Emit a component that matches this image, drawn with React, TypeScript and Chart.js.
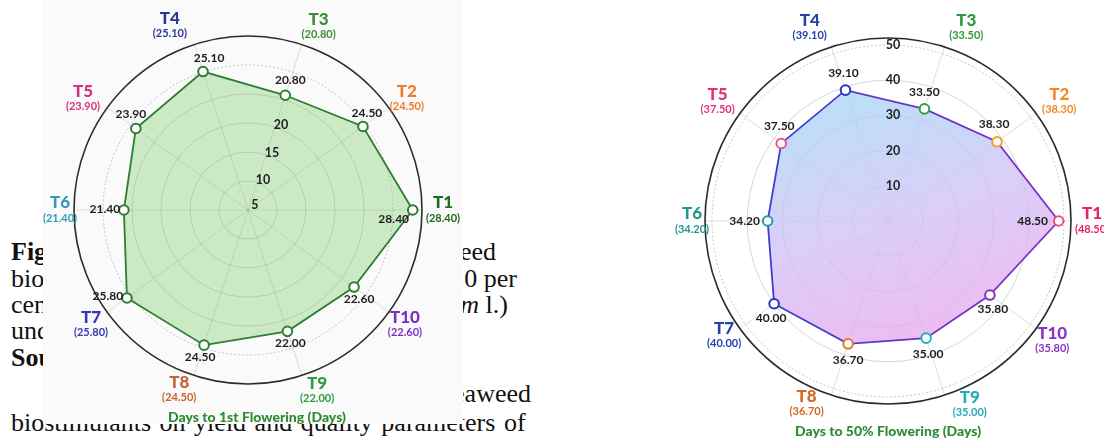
import React, { useEffect, useRef } from 'react';
import { Chart, registerables } from 'chart.js';

Chart.register(...registerables);

// ---------- data ----------
const categories = ['T1', 'T2', 'T3', 'T4', 'T5', 'T6', 'T7', 'T8', 'T9', 'T10'];
const daysToFirstFlowering = [28.4, 24.5, 20.8, 25.1, 23.9, 21.4, 25.8, 24.5, 22.0, 22.6];
const daysToFiftyFlowering = [48.5, 38.3, 33.5, 39.1, 37.5, 34.2, 40.0, 36.7, 35.0, 35.8];
const firstTickLabels = [5, 10, 15, 20];
const fiftyTickLabels = [10, 20, 30, 40, 50];
const firstRings = [0, 5, 10, 15, 20, 25, 30];
const fiftyRings = [0, 10, 20, 30, 40, 50, 52];
const firstTitle = 'Days to 1st Flowering (Days)';
const fiftyTitle = 'Days to 50% Flowering (Days)';

// chart.js draws clockwise from startAngle; reference goes counter-clockwise from the right
const order = [0, 9, 8, 7, 6, 5, 4, 3, 2, 1];

// ---------- styles ----------
const SANS = '"Lato", "Open Sans", sans-serif';

const leftStyle = {
  left: 43, top: 0, w: 420, h: 424,
  padding: { left: 31, right: 41, top: 36, bottom: 40 },
  max: 30, dotted: 25,
  labelGaps: [21, 20, 23, 26, 25, 14, 20, 18, 19, 20],
  labelTurns: [0, 1, 3, -5, -2, 0, 0, 3, -3, 0],
  catColors: ['#1e6b22', '#f07a2a', '#3a8f35', '#2c3797', '#d4337e', '#2f9db6', '#3438b2', '#c2652c', '#2f9a3e', '#7b30c0'],
  pointColors: Array(10).fill('#2e7d32'),
  valueOffsets: [[-19, 9], [4, -13], [5, -15], [6, -13], [-5, -14], [-19, -1], [-19, -2], [-4, 12], [3, 12], [5, 12]],
  tickInset: 29,
  titlePos: [214, 417],
};

const rightStyle = {
  left: 655, top: 0, w: 449, h: 438,
  padding: { left: 50, right: 33, top: 38, bottom: 34 },
  max: 52, dotted: 50,
  labelGaps: [21, 26, 26, 26, 25, 13, 17, 17, 18, 20],
  labelTurns: [0, 1, 4, -4, -1, 0, 1, 6, -6, 0],
  catColors: ['#e8235c', '#f08a26', '#2f9a3a', '#2443b0', '#e0317c', '#24978c', '#2443b0', '#d2691e', '#22adb6', '#8a35c8'],
  pointColors: ['#f0507a', '#f3a030', '#35a035', '#2535c4', '#f05585', '#2a9a9a', '#2535c4', '#e47a22', '#22b2b4', '#8a32ba'],
  valueOffsets: [[-26, 0], [-3, -18], [0, -17], [-2, -17], [-2, -17], [-23, 0], [-3, 14], [0, 16], [2, 16], [3, 14]],
  tickInset: 0,
  titlePos: [233, 431],
};

function labelPlugin(values: number[], tickLabels: number[], title: string, st: any, verticalTicks: boolean) {
  return {
    id: 'customRadarLabels',
    afterDatasetsDraw(chart: any) {
      const scale = chart.scales.r;
      const ctx = chart.ctx as CanvasRenderingContext2D;
      ctx.save();
      ctx.textAlign = 'center';
      ctx.textBaseline = 'middle';

      // tick labels
      ctx.fillStyle = '#222';
      ctx.font = `bold 12.5px ${SANS}`;
      const t3Index = order.indexOf(2);
      tickLabels.forEach((v) => {
        const d = Math.max(scale.getDistanceFromCenterForValue(v) - st.tickInset, 3);
        if (verticalTicks) {
          ctx.fillText(String(v), scale.xCenter + 5, scale.yCenter - d);
        } else {
          const p = scale.getPointPosition(t3Index, d);
          ctx.fillText(String(v), p.x + 6, p.y - 2);
        }
      });

      const R = scale.drawingArea;
      order.forEach((cat, i) => {
        const v = values[cat];
        const p = scale.getPointPositionForValue(i, v);
        const off = st.valueOffsets[cat];
        ctx.fillStyle = '#1d1d1d';
        ctx.font = `bold 12px ${SANS}`;
        ctx.fillText(v.toFixed(2), p.x + off[0], p.y + off[1]);

        const lp = scale.getPointPosition(i, R + st.labelGaps[cat], (st.labelTurns[cat] * Math.PI) / 180);
        ctx.fillStyle = st.catColors[cat];
        ctx.font = `900 17px ${SANS}`;
        ctx.fillText(categories[cat], lp.x, lp.y - 7);
        ctx.font = `bold 11px ${SANS}`;
        ctx.fillText(`(${v.toFixed(2)})`, lp.x, lp.y + 8);
      });

      ctx.fillStyle = '#2e8b35';
      ctx.font = `900 14px ${SANS}`;
      ctx.fillText(title, st.titlePos[0], st.titlePos[1]);
      ctx.restore();
    },
  };
}

function RadarCanvas({ values, rings, tickLabels, title, st, variant }: any) {
  const ref = useRef<HTMLCanvasElement>(null);
  useEffect(() => {
    const labels = order.map((i) => categories[i]);
    const data = order.map((i) => values[i]);
    const isGreen = variant === 'green';
    const fill = isGreen
      ? 'rgba(110, 200, 90, 0.33)'
      : (c: any) => {
          const area = c.chart.chartArea;
          if (!area) return 'rgba(200,190,245,0.7)';
          const g = c.chart.ctx.createLinearGradient(area.left + area.width * 0.35, area.top, area.left + area.width * 0.65, area.bottom);
          g.addColorStop(0, 'rgba(150, 222, 246, 0.78)');
          g.addColorStop(0.5, 'rgba(208, 192, 246, 0.78)');
          g.addColorStop(1, 'rgba(247, 160, 236, 0.82)');
          return g;
        };
    const stroke = isGreen
      ? '#2e7d32'
      : (c: any) => {
          const area = c.chart.chartArea;
          if (!area) return '#5a35cc';
          const g = c.chart.ctx.createLinearGradient(area.left, 0, area.right, 0);
          g.addColorStop(0, '#2f3fd2');
          g.addColorStop(1, '#8a2fc2');
          return g;
        };
    const chart = new Chart(ref.current as HTMLCanvasElement, {
      type: 'radar',
      data: {
        labels,
        datasets: [
          {
            data,
            fill: true,
            backgroundColor: fill as any,
            borderColor: stroke as any,
            borderWidth: 1.8,
            pointRadius: 4.8,
            pointBorderWidth: 2,
            pointBackgroundColor: '#ffffff',
            pointBorderColor: order.map((i) => st.pointColors[i]),
            tension: 0,
          },
        ],
      },
      options: {
        responsive: false,
        animation: false,
        layout: { padding: st.padding },
        plugins: { legend: { display: false }, tooltip: { enabled: false } },
        scales: {
          r: {
            min: 0,
            max: st.max,
            startAngle: 90,
            afterBuildTicks: (s: any) => {
              s.ticks = rings.map((v: number) => ({ value: v }));
            },
            ticks: { display: false },
            pointLabels: { display: false },
            grid: {
              circular: true,
              color: (c: any) =>
                c.tick && c.tick.value === st.max ? '#2b2b2b' : c.tick && c.tick.value === st.dotted ? 'rgba(0,0,0,0.22)' : 'rgba(0,0,0,0.17)',
              lineWidth: (c: any) => (c.tick && c.tick.value === st.max ? 1.6 : 1),
            },
            border: {
              dash: (c: any) => (c.tick && c.tick.value === st.dotted ? [2, 2] : []),
            } as any,
            angleLines: { color: 'rgba(0,0,0,0.13)', lineWidth: 1 },
          } as any,
        },
      },
      plugins: [labelPlugin(values, tickLabels, title, st, !isGreen)],
    });
    return () => chart.destroy();
  }, []);
  return (
    <canvas
      ref={ref}
      width={st.w}
      height={st.h}
      style={{ position: 'absolute', left: st.left, top: st.top, width: st.w, height: st.h }}
    />
  );
}

const serif: React.CSSProperties = {
  position: 'absolute',
  fontFamily: '"Liberation Serif", "Times New Roman", serif',
  fontSize: 26,
  lineHeight: '26px',
  whiteSpace: 'nowrap',
  color: '#111',
};

export default function App() {
  const W = 1104;
  return (
    <div style={{ position: 'fixed', left: 0, top: 0, width: W, height: 438, background: '#ffffff', overflow: 'hidden' }}>
      {/* document text behind the figure */}
      <span style={{ ...serif, left: 11, top: 239 }}><b>Fig. 2:</b> Effect of</span>
      <span style={{ ...serif, left: 11, top: 266 }}>biostimulants</span>
      <span style={{ ...serif, left: 11, top: 292 }}>cent seaweed</span>
      <span style={{ ...serif, left: 11, top: 318 }}>under</span>
      <span style={{ ...serif, left: 11, top: 345 }}><b>Source:</b></span>
      <span style={{ ...serif, right: W - 496, top: 239 }}>seaweed</span>
      <span style={{ ...serif, right: W - 517, top: 266 }}>10 per</span>
      <span style={{ ...serif, right: W - 508, top: 292 }}>(<i>Capsicum annuum</i> l.)</span>
      <span style={{ ...serif, right: W - 531, top: 381 }}>seaweed</span>
      <span style={{ ...serif, left: 11, top: 410, wordSpacing: 2 }}>biostimulants on yield and quality parameters of</span>

      {/* left figure panel */}
      <div style={{ position: 'absolute', left: 43, top: 0, width: 420, height: 424, background: '#fafafa' }} />
      <RadarCanvas
        values={daysToFirstFlowering}
        rings={firstRings}
        tickLabels={firstTickLabels}
        title={firstTitle}
        st={leftStyle}
        variant="green"
      />
      <RadarCanvas
        values={daysToFiftyFlowering}
        rings={fiftyRings}
        tickLabels={fiftyTickLabels}
        title={fiftyTitle}
        st={rightStyle}
        variant="gradient"
      />
    </div>
  );
}
